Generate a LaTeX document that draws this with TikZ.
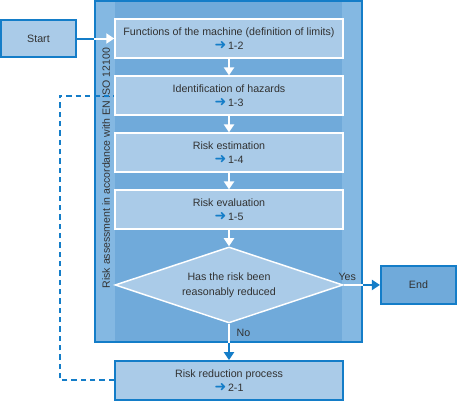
\documentclass[tikz,border=0pt]{standalone}
\usepackage{fontspec}
\setmainfont{Liberation Sans}
\newfontfamily\symfont{DejaVu Sans}
\usetikzlibrary{arrows.meta,shapes.geometric}

\definecolor{frameblue}{RGB}{112,170,218}
\definecolor{stripblue}{RGB}{132,184,226}
\definecolor{boxblue}{RGB}{170,203,232}
\definecolor{lineblue}{RGB}{20,125,200}
\definecolor{textgray}{RGB}{50,50,50}
\newcommand{\refto}[1]{{\color{lineblue}\symfont\fontsize{10.5}{10.5}\selectfont\char"279C}\,#1}

\begin{document}
\begin{tikzpicture}[x=0.75pt,y=-0.75pt,>={Triangle[width=7.5pt,length=6pt]},node distance=42.75pt,
  thick,line width=1.5pt,
  proc node/.style={rectangle,fill=boxblue,draw=white,line width=1.1pt,
    minimum width=171pt,minimum height=29pt,inner sep=0pt,align=center,
    font=\fontsize{8}{10.5}\selectfont,text=textgray},
  term node/.style={rectangle,fill=boxblue,draw=lineblue,line width=1.5pt,
    minimum width=56.3pt,minimum height=27.8pt,inner sep=0pt,
    font=\fontsize{8}{10.5}\selectfont,text=textgray},
  dec node/.style={diamond,aspect=3,fill=boxblue,draw=white,line width=1.1pt,
    minimum width=171pt,minimum height=57pt,inner sep=0pt,align=center,
    font=\fontsize{8}{11}\selectfont,text=textgray},
  white line/.style={draw=white,line width=1.5pt},
  blue line/.style={draw=lineblue,line width=1.5pt}]

  \useasboundingbox (0,0) rectangle (457,400);

  % frame of the risk assessment
  \node[rectangle,fill=frameblue,draw=lineblue,line width=1.5pt,
    minimum width=200.25pt,minimum height=255.75pt,inner sep=0pt]
    (RA) at (228.5,171.5) {};
  \fill[stripblue] (96,2) rectangle (115,341);
  \fill[stripblue] (342,2) rectangle (361,341);
  \node[rotate=90,font=\fontsize{7.9}{9}\selectfont,text=textgray]
    (RAL) at (106,168) {Risk assessment in accordance with EN ISO 12100};

  \node[proc node] (FM) at (229,38.5) {Functions of the machine (definition of limits)\\ \refto{1-2}};
  \node[proc node] (IH) [below of=FM] {Identification of hazards\\ \refto{1-3}};
  \node[proc node] (RE) [below of=IH] {Risk estimation\\ \refto{1-4}};
  \node[proc node] (RV) [below of=RE] {Risk evaluation\\ \refto{1-5}};
  \node[dec node] (DEC) [node distance=56.6pt, below of=RV] {Has the risk been\\ reasonably reduced};
  \node[proc node,draw=lineblue,line width=1.5pt] (RR) [node distance=71.6pt, below of=DEC] {Risk reduction process\\ \refto{2-1}};
  \node[term node] (ST) [node distance=142.9pt, left of=FM] {Start};
  \node[term node,fill=frameblue] (EN) [node distance=142.1pt, right of=DEC] {End};

  \coordinate (STX) at (ST.east -| RA.west);
  \coordinate (ENX) at (EN.west -| RA.east);
  \coordinate (RRX) at (DEC.south |- RA.south);
  \coordinate (DL1) at (60,0 |- RR.west);
  \coordinate (DL2) at (60,0 |- IH.west);

  \path[blue line] (ST) -- (STX);
  \path[white line,->] (STX) -- (FM);
  \path[white line,->] (FM) -- (IH);
  \path[white line,->] (IH) -- (RE);
  \path[white line,->] (RE) -- (RV);
  \path[white line,->] (RV) -- (DEC);
  \path[white line] (DEC.east) -- (ENX)
    node[above left,font=\fontsize{8}{9}\selectfont,text=textgray,inner sep=2.5pt,xshift=-2pt] {Yes};
  \path[blue line,->] (ENX) -- (EN);
  \path[white line] (DEC.south) -- node[right,font=\fontsize{8}{9}\selectfont,text=textgray,inner sep=5pt] {No} (RRX);
  \path[blue line,->] (RRX) -- (RR);
  \path[blue line,dashed,dash pattern=on 4pt off 3pt] (RR.west) -- (DL1) -- (DL2) -- (IH.west);
\end{tikzpicture}
\end{document}
